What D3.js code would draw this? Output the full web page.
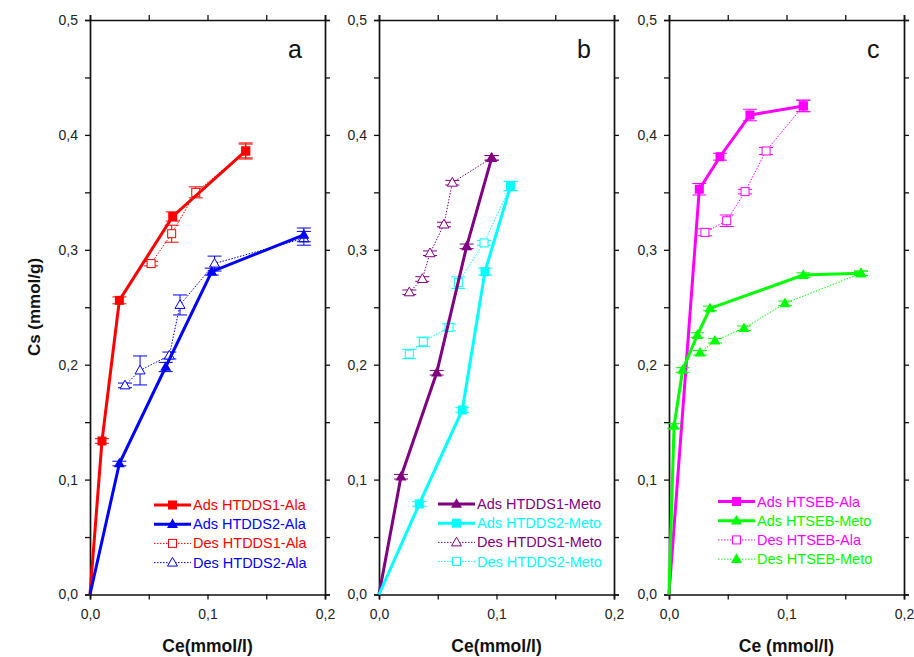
<!DOCTYPE html>
<html lang="en">
<head>
<meta charset="UTF-8">
<title>Adsorption / desorption isotherms</title>
<script src="https://d3js.org/d3.v7.min.js"></script>
<style>
    body { margin: 0; background: #fff; }
    svg { display: block; font-family: "Liberation Sans", Arial, sans-serif; }
</style>
</head>
<body>
<svg id="chart" width="914" height="657"></svg>
<script>
// ---- panel a ----
const adsS1AlaX = [0, 0.0102, 0.025, 0.0704, 0.1325];
const adsS1AlaY = [0, 0.1336, 0.256, 0.329, 0.386];
const adsS1AlaE = [0, 0.002, 0.003, 0.004, 0.007];
const adsS2AlaX = [0, 0.025, 0.0644, 0.1036, 0.182];
const adsS2AlaY = [0, 0.114, 0.198, 0.281, 0.313];
const adsS2AlaE = [0, 0.002, 0.004, 0.003, 0.006];
const desS1AlaX = [0.052, 0.0695, 0.090, 0.1325];
const desS1AlaY = [0.288, 0.314, 0.350, 0.386];
const desS1AlaE = [0.002, 0.0074, 0.0048, 0.006];
const desS2AlaX = [0.0298, 0.0426, 0.0675, 0.0766, 0.106, 0.182];
const desS2AlaY = [0.182, 0.195, 0.208, 0.252, 0.288, 0.310];
const desS2AlaE = [0.002, 0.0126, 0.003, 0.0087, 0.0065, 0.006];

// ---- panel b ----
const adsS1MetoX = [0, 0.0187, 0.0491, 0.0746, 0.0959];
const adsS1MetoY = [0, 0.1025, 0.193, 0.303, 0.380];
const adsS1MetoE = [0, 0.002, 0.002, 0.002, 0.002];
const adsS2MetoX = [0, 0.0343, 0.0709, 0.0902, 0.112];
const adsS2MetoY = [0, 0.0788, 0.1606, 0.281, 0.3555];
const adsS2MetoE = [0, 0.002, 0.002, 0.003, 0.004];
const desS1MetoX = [0.0258, 0.0369, 0.0434, 0.0553, 0.0624, 0.0959];
const desS1MetoY = [0.263, 0.2746, 0.297, 0.322, 0.3584, 0.380];
const desS1MetoE = [0.002, 0.002, 0.002, 0.002, 0.002, 0.002];
const desS2MetoX = [0.0258, 0.0377, 0.0596, 0.0675, 0.0894, 0.112];
const desS2MetoY = [0.2093, 0.220, 0.2325, 0.2714, 0.306, 0.3555];
const desS2MetoE = [0.004, 0.004, 0.003, 0.005, 0.002, 0.004];

// ---- panel c ----
const adsSebAlaX = [0, 0.0258, 0.0434, 0.0689, 0.1143];
const adsSebAlaY = [0, 0.3527, 0.381, 0.4173, 0.4252];
const adsSebAlaE = [0, 0.005, 0.003, 0.005, 0.005];
const adsSebMetoX = [0, 0.0043, 0.0116, 0.0241, 0.0349, 0.1143, 0.1634];
const adsSebMetoY = [0, 0.1467, 0.1954, 0.2258, 0.249, 0.278, 0.2795];
const adsSebMetoE = [0, 0.002, 0.002, 0.002, 0.002, 0.002, 0.002];
const desSebAlaX = [0.0306, 0.0491, 0.0647, 0.0826, 0.1143];
const desSebAlaY = [0.3152, 0.3253, 0.3506, 0.386, 0.4252];
const desSebAlaE = [0.003, 0.005, 0.002, 0.003, 0.005];
const desSebMetoX = [0.0264, 0.0391, 0.0638, 0.0987, 0.1634];
const desSebMetoY = [0.2104, 0.2209, 0.2317, 0.2534, 0.2795];
const desSebMetoE = [0.002, 0.002, 0.002, 0.002, 0.002];

const xTicks = [0, 0.05, 0.1, 0.15, 0.2];
const yTicks = [0, 0.05, 0.1, 0.15, 0.2, 0.25, 0.3, 0.35, 0.4, 0.45, 0.5];
const panelLetters = ["a", "b", "c"];
const xTitles = ["Ce(mmol/l)", "Ce(mmol/l)", "Ce (mmol/l)"];
const yTitle = "Cs (mmol/g)";

function series(name, xs, ys, es, color, ads, marker) {
    return { name, color, ads, marker, pts: xs.map((x, i) => ({ x, y: ys[i], e: es[i] })) };
}

const panels = [
    { left: 90, legendX: 154, legendY: 505, series: [
        series("Ads HTDDS1-Ala", adsS1AlaX, adsS1AlaY, adsS1AlaE, "#ff0000", true, "square"),
        series("Ads HTDDS2-Ala", adsS2AlaX, adsS2AlaY, adsS2AlaE, "#0000ff", true, "triangle"),
        series("Des HTDDS1-Ala", desS1AlaX, desS1AlaY, desS1AlaE, "#ff0000", false, "squareOpen"),
        series("Des HTDDS2-Ala", desS2AlaX, desS2AlaY, desS2AlaE, "#0000ff", false, "triangleOpen")
    ]},
    { left: 379, legendX: 438, legendY: 504, series: [
        series("Ads HTDDS1-Meto", adsS1MetoX, adsS1MetoY, adsS1MetoE, "#800080", true, "triangle"),
        series("Ads HTDDS2-Meto", adsS2MetoX, adsS2MetoY, adsS2MetoE, "#00ffff", true, "square"),
        series("Des HTDDS1-Meto", desS1MetoX, desS1MetoY, desS1MetoE, "#800080", false, "triangleOpen"),
        series("Des HTDDS2-Meto", desS2MetoX, desS2MetoY, desS2MetoE, "#00ffff", false, "squareOpen")
    ]},
    { left: 669, legendX: 718, legendY: 501.5, series: [
        series("Ads HTSEB-Ala", adsSebAlaX, adsSebAlaY, adsSebAlaE, "#ff00ff", true, "square"),
        series("Ads HTSEB-Meto", adsSebMetoX, adsSebMetoY, adsSebMetoE, "#00ff00", true, "triangle"),
        series("Des HTSEB-Ala", desSebAlaX, desSebAlaY, desSebAlaE, "#ff00ff", false, "squareOpen"),
        series("Des HTSEB-Meto", desSebMetoX, desSebMetoY, desSebMetoE, "#00ff00", false, "triangle")
    ]}
];

const svg = d3.select("#chart");
const pw = 235, plotTop = 20, plotBottom = 594.5;
const y = d3.scaleLinear().domain([0, 0.5]).range([plotBottom, plotTop]);
const fmt = v => (Math.round(v * 100) % 10 === 0) ? d3.format(".1f")(v).replace(".", ",") : "";

function drawMarker(g, kind, cx, cy, color) {
    if (kind === "square" || kind === "squareOpen") {
        const s = kind === "square" ? 9 : 8;
        g.append("rect").attr("x", cx - s / 2).attr("y", cy - s / 2).attr("width", s).attr("height", s)
            .attr("fill", kind === "square" ? color : "#fff")
            .attr("stroke", color).attr("stroke-width", kind === "square" ? 0 : 1);
    } else {
        const s = kind === "triangle" ? 11 : 10;
        const h = s * 0.87;
        g.append("path")
            .attr("d", `M${cx},${cy - h * 0.6}L${cx + s / 2},${cy + h * 0.4}L${cx - s / 2},${cy + h * 0.4}Z`)
            .attr("fill", kind === "triangle" ? color : "#fff")
            .attr("stroke", color).attr("stroke-width", kind === "triangle" ? 0 : 1);
    }
}

panels.forEach((p, pi) => {
    const x = d3.scaleLinear().domain([0, 0.2]).range([p.left, p.left + pw]);
    const g = svg.append("g");

    // axes on all four sides, ticks outward
    g.append("g").attr("transform", `translate(0,${plotBottom})`)
        .call(d3.axisBottom(x).tickValues(xTicks).tickSize(5).tickPadding(10).tickFormat(fmt));
    g.append("g").attr("transform", `translate(0,${plotTop})`)
        .call(d3.axisTop(x).tickValues(xTicks).tickSize(5).tickFormat(""));
    g.append("g").attr("transform", `translate(${p.left},0)`)
        .call(d3.axisLeft(y).tickValues(yTicks).tickSize(5).tickPadding(7).tickFormat(fmt));
    g.append("g").attr("transform", `translate(${p.left + pw},0)`)
        .call(d3.axisRight(y).tickValues(yTicks).tickSize(5).tickFormat(""));
    g.selectAll(".domain").attr("stroke", "#111").attr("stroke-width", 1.7);
    g.selectAll(".tick line").attr("stroke", "#111").attr("stroke-width", 1.3);
    g.selectAll(".tick text").attr("font-size", 14).attr("fill", "#222")
        .attr("font-family", "Liberation Sans, Arial, sans-serif");

    // draw Des series first, then Ads on top
    const order = p.series.filter(s => !s.ads).concat(p.series.filter(s => s.ads));
    order.forEach(s => {
        const line = d3.line().x(d => x(d.x)).y(d => y(d.y));
        g.append("path").datum(s.pts).attr("d", line)
            .attr("fill", "none").attr("stroke", s.color)
            .attr("stroke-width", s.ads ? 3 : 1)
            .attr("stroke-dasharray", s.ads ? null : "1.5,1.5");
        s.pts.forEach(d => {
            if (d.e > 0) {
                const cx = x(d.x), y0 = y(d.y - d.e), y1 = y(d.y + d.e);
                g.append("path")
                    .attr("d", `M${cx},${y0}V${y1}M${cx - 7},${y0}H${cx + 7}M${cx - 7},${y1}H${cx + 7}`)
                    .attr("stroke", s.color).attr("stroke-width", 1).attr("fill", "none");
            }
        });
        s.pts.filter(d => d.x > 0).forEach(d => drawMarker(g, s.marker, x(d.x), y(d.y), s.color));
    });

    // legend
    p.series.forEach((s, i) => {
        const ly = p.legendY + i * 19.2;
        const x0 = p.legendX, x1 = p.legendX + 37;
        g.append("line").attr("x1", x0).attr("x2", x1).attr("y1", ly).attr("y2", ly)
            .attr("stroke", s.color).attr("stroke-width", s.ads ? 3 : 1)
            .attr("stroke-dasharray", s.ads ? null : "1.5,1.5");
        drawMarker(g, s.marker, (x0 + x1) / 2, ly, s.color);
        g.append("text").attr("x", x1 + 2).attr("y", ly + 5)
            .attr("font-size", 14.5).attr("fill", s.color).text(s.name);
    });

    // panel letter
    g.append("text").attr("x", p.left + pw - 37).attr("y", 58)
        .attr("font-size", 25).attr("fill", "#111").text(panelLetters[pi]);

    // x axis title
    g.append("text").attr("x", p.left + pw / 2).attr("y", 652)
        .attr("text-anchor", "middle").attr("font-size", 17.5).attr("font-weight", "bold")
        .attr("fill", "#111").text(xTitles[pi]);
});

svg.append("text").attr("transform", "translate(40,307) rotate(-90)")
    .attr("text-anchor", "middle").attr("font-size", 17).attr("font-weight", "bold")
    .attr("fill", "#111").text(yTitle);
</script>
</body>
</html>
